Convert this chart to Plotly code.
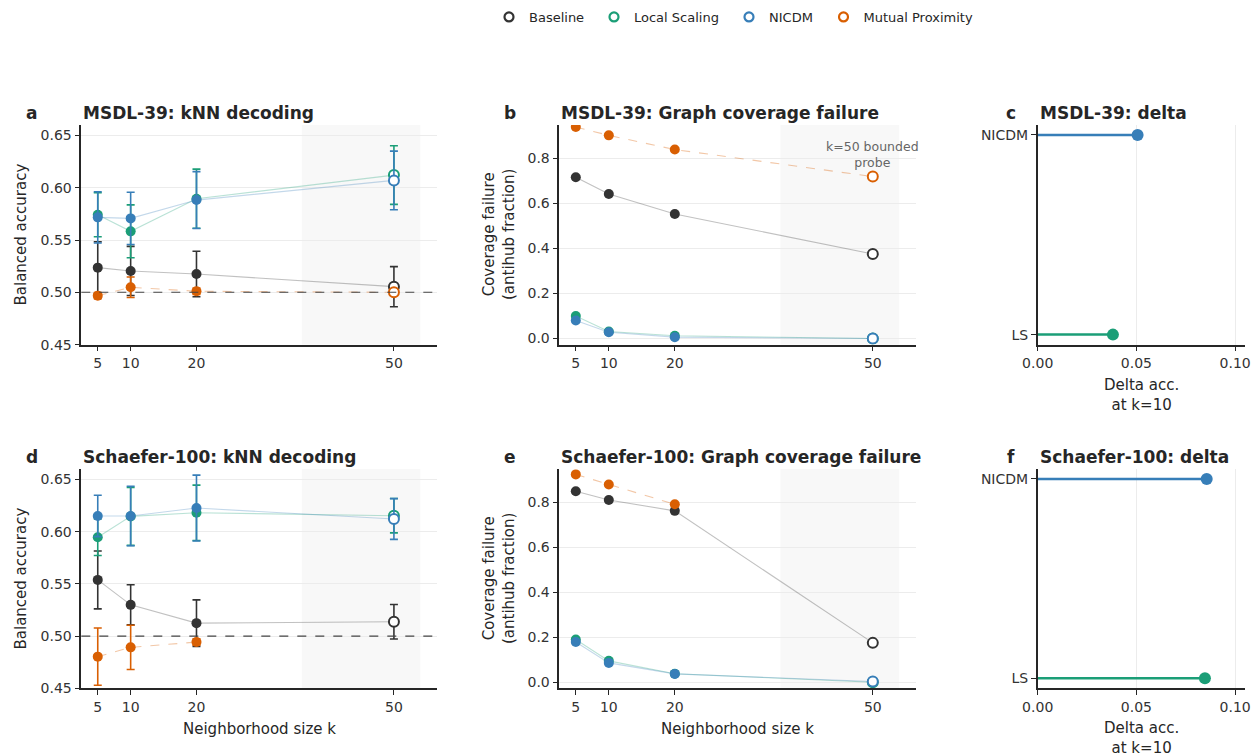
import plotly.graph_objects as go

W, H = 1259, 754
OFF = 8  # page body margin offset

K = [5, 10, 20, 50]
METHODS = ["Baseline", "Local Scaling", "NICDM", "Mutual Proximity"]
COLORS = ["#333333", "#1b9e77", "#377eb8", "#d95f02"]
LINE_COLORS = ["rgba(51,51,51,0.30)", "rgba(27,158,119,0.30)",
               "rgba(55,126,184,0.30)", "rgba(217,95,2,0.35)"]
LINE_DASH = ["solid", "solid", "solid", "dash"]

# ---- MSDL-39 : kNN decoding (balanced accuracy) ----
msdl_acc_baseline = [0.5236, 0.5204, 0.5175, 0.5054]
msdl_acc_ls = [0.5742, 0.5583, 0.5895, 0.6121]
msdl_acc_nicdm = [0.5717, 0.5707, 0.5882, 0.6070]
msdl_acc_mp = [0.4968, 0.5048, 0.5010, 0.5000]
msdl_err_baseline = [0.0248, 0.0235, 0.0217, 0.0192]
msdl_err_ls = [0.0210, 0.0253, 0.0283, 0.0280]
msdl_err_nicdm = [0.0245, 0.0250, 0.0272, 0.0280]
msdl_err_mp = [0.0030, 0.0098, 0.0030, 0.0010]

# ---- MSDL-39 : coverage failure ----
msdl_cov_baseline = [0.716, 0.642, 0.553, 0.375]
msdl_cov_ls = [0.100, 0.031, 0.012, 0.000]
msdl_cov_nicdm = [0.080, 0.028, 0.006, 0.000]
msdl_cov_mp = [0.939, 0.902, 0.839, 0.719]

# ---- Schaefer-100 : kNN decoding ----
sch_acc_baseline = [0.5538, 0.5299, 0.5124, 0.5137]
sch_acc_ls = [0.5946, 0.6146, 0.6181, 0.6153]
sch_acc_nicdm = [0.6150, 0.6150, 0.6226, 0.6121]
sch_acc_mp = [0.4803, 0.4892, 0.4943, None]
sch_err_baseline = [0.0277, 0.0192, 0.0223, 0.0165]
sch_err_ls = [0.0175, 0.0277, 0.0265, 0.0165]
sch_err_nicdm = [0.0198, 0.0285, 0.0315, 0.0195]
sch_err_mp = [0.0274, 0.0212, 0.0030, None]

# ---- Schaefer-100 : coverage failure ----
sch_cov_baseline = [0.849, 0.810, 0.762, 0.175]
sch_cov_ls = [0.190, 0.095, 0.038, 0.000]
sch_cov_nicdm = [0.179, 0.086, 0.037, 0.003]
sch_cov_mp = [0.924, 0.879, 0.791, None]

# ---- delta at k=10 ----
DELTA_CATS = ["LS", "NICDM"]
DELTA_COLORS = ["#1b9e77", "#377eb8"]
msdl_delta = [0.0381, 0.0506]
sch_delta = [0.0847, 0.0856]

ACC_TICKS = [0.45, 0.50, 0.55, 0.60, 0.65]
COV_TICKS = [0.0, 0.2, 0.4, 0.6, 0.8]
DELTA_TICKS = [0.00, 0.05, 0.10]

TXT = "#262626"
FONT = "DejaVu Sans"

fig = go.Figure()


def fx(p):
    return (p - OFF) / W


def fy(p):
    return 1 - (p - OFF) / H


def px_x(x0, x1):
    return [fx(x0), fx(x1)]


def px_y(top, bottom):
    return [fy(bottom), fy(top)]


def add_series(xa, ya, values, errs):
    for i in range(4):
        vals = values[i]
        pts_x = [k for k, v in zip(K, vals) if v is not None]
        pts_y = [v for v in vals if v is not None]
        c = COLORS[i]
        fill = [c if k != 50 else "white" for k in pts_x]
        lw = [0 if k != 50 else 2 for k in pts_x]
        err = None
        if errs is not None:
            e = [v for v in errs[i] if v is not None]
            err = dict(type="data", array=e, visible=True, color=c,
                       thickness=1.6, width=4)
        fig.add_trace(go.Scatter(
            x=pts_x, y=pts_y, xaxis=xa, yaxis=ya, mode="lines+markers",
            line=dict(color=LINE_COLORS[i], width=1.1, dash=LINE_DASH[i]),
            marker=dict(size=10, color=fill, line=dict(color=c, width=lw)),
            error_y=err, showlegend=False, hoverinfo="x+y"))


add_series("x", "y", [msdl_acc_baseline, msdl_acc_ls, msdl_acc_nicdm, msdl_acc_mp],
           [msdl_err_baseline, msdl_err_ls, msdl_err_nicdm, msdl_err_mp])
add_series("x2", "y2", [msdl_cov_baseline, msdl_cov_ls, msdl_cov_nicdm, msdl_cov_mp], None)
add_series("x4", "y4", [sch_acc_baseline, sch_acc_ls, sch_acc_nicdm, sch_acc_mp],
           [sch_err_baseline, sch_err_ls, sch_err_nicdm, sch_err_mp])
add_series("x5", "y5", [sch_cov_baseline, sch_cov_ls, sch_cov_nicdm, sch_cov_mp], None)


def add_lollipop(xa, ya, deltas):
    for cat, v, c in zip(DELTA_CATS, deltas, DELTA_COLORS):
        fig.add_trace(go.Scatter(
            x=[0, v], y=[cat, cat], xaxis=xa, yaxis=ya, mode="lines",
            line=dict(color=c, width=2.5), showlegend=False, hoverinfo="skip"))
        fig.add_trace(go.Scatter(
            x=[v], y=[cat], xaxis=xa, yaxis=ya, mode="markers",
            marker=dict(size=12, color=c), showlegend=False))


add_lollipop("x3", "y3", msdl_delta)
add_lollipop("x6", "y6", sch_delta)

# legend entries (one small legend per method, placed like the reference row)
LEGEND_NAMES = ["legend", "legend2", "legend3", "legend4"]
LEGEND_X = [481, 586, 721, 815.5]
for m, c, lg in zip(METHODS, COLORS, LEGEND_NAMES):
    fig.add_trace(go.Scatter(
        x=[None], y=[None], mode="markers", name=m, legend=lg,
        marker=dict(symbol="circle-open", size=9, color=c, line=dict(width=2.2))))

axis_common = dict(showline=True, linecolor=TXT, linewidth=1.5, ticks="outside",
                   ticklen=5, tickwidth=1.2, tickcolor=TXT, zeroline=False,
                   tickfont=dict(family=FONT, size=14, color="#333333"),
                   gridcolor="#ececec", gridwidth=1, automargin=False)

cols = [(81.3, 436.7), (559.3, 915.7), (1037.7, 1245.0)]
rows = [(125.0, 344.6), (469.0, 688.3)]

layout = {}
idx = 0
for r, (top, bot) in enumerate(rows):
    for cidx, (l, rr) in enumerate(cols):
        idx += 1
        sx = "" if idx == 1 else str(idx)
        xa = dict(axis_common, domain=px_x(l, rr), anchor="y" + sx)
        ya = dict(axis_common, domain=px_y(top, bot), anchor="x" + sx)
        if cidx == 0:
            xa.update(range=[2.5, 56.5], tickvals=K, showgrid=False)
            ya.update(range=[0.45, 0.66], tickvals=ACC_TICKS,
                      ticktext=[f"{t:.2f}" for t in ACC_TICKS], showgrid=True)
        elif cidx == 1:
            xa.update(range=[2.5, 56.5], tickvals=K, showgrid=False)
            ya.update(range=[-0.027, 0.948], tickvals=COV_TICKS,
                      ticktext=[f"{t:.1f}" for t in COV_TICKS], showgrid=True)
        else:
            xa.update(range=[0, 0.105], tickvals=DELTA_TICKS,
                      ticktext=[f"{t:.2f}" for t in DELTA_TICKS], showgrid=True)
            ya.update(type="category", categoryorder="array",
                      categoryarray=DELTA_CATS, range=[-0.05, 1.05], showgrid=False)
        layout["xaxis" + sx] = xa
        layout["yaxis" + sx] = ya

for lg, lx in zip(LEGEND_NAMES, LEGEND_X):
    layout[lg] = dict(orientation="h", xref="container", yref="container",
                      x=lx / W, xanchor="left", y=fy(17), yanchor="middle",
                      font=dict(family=FONT, size=13, color=TXT),
                      bgcolor="rgba(0,0,0,0)")

shapes = []
for sx in ["", "2", "4", "5"]:
    shapes.append(dict(type="rect", xref="x" + sx, yref=("y" + sx) + " domain",
                       x0=36, x1=54, y0=0, y1=1, fillcolor="#f8f8f8",
                       line=dict(width=0), layer="below"))
for sx in ["", "4"]:
    shapes.append(dict(type="line", xref="x" + sx + " domain", yref="y" + sx,
                       x0=0, x1=1, y0=0.5, y1=0.5,
                       line=dict(color="#444444", width=1.1, dash="dash")))

ann = []
titles = [("a", "MSDL-39: kNN decoding", 23.5, 80.8, 113),
          ("b", "MSDL-39: Graph coverage failure", 501.8, 559.2, 113),
          ("c", "MSDL-39: delta", 1004.2, 1037.5, 113),
          ("d", "Schaefer-100: kNN decoding", 23.5, 80.8, 457),
          ("e", "Schaefer-100: Graph coverage failure", 501.8, 559.2, 457),
          ("f", "Schaefer-100: delta", 1005.2, 1037.5, 457)]
for letter, t, lx, tx, ty in titles:
    for txt, xx in [(letter, lx), (t, tx)]:
        ann.append(dict(text=f"<b>{txt}</b>", x=fx(xx), y=fy(ty), xref="paper",
                        yref="paper", xanchor="left", yanchor="middle", showarrow=False,
                        font=dict(family=FONT, size=17, color=TXT)))

axis_titles = [("Balanced accuracy", 20.5, 235.0, -90),
               ("Coverage failure<br>(antihub fraction)", 499, 235.0, -90),
               ("Balanced accuracy", 20.5, 579.0, -90),
               ("Coverage failure<br>(antihub fraction)", 499, 579.0, -90),
               ("Neighborhood size k", 259, 728.5, 0),
               ("Neighborhood size k", 737.5, 729.3, 0),
               ("Delta acc.<br>at k=10", 1141.3, 395, 0),
               ("Delta acc.<br>at k=10", 1141.3, 738, 0)]
for t, xx, yy, ang in axis_titles:
    ann.append(dict(text=t, x=fx(xx), y=fy(yy), xref="paper", yref="paper",
                    xanchor="center", yanchor="middle", showarrow=False, textangle=ang,
                    font=dict(family=FONT, size=15, color=TXT)))

ann.append(dict(text="k=50 bounded<br>probe", x=50, y=msdl_cov_mp[3], xref="x2", yref="y2",
                xanchor="center", yanchor="bottom", yshift=5, showarrow=False,
                font=dict(family=FONT, size=12.5, color="#666666")))

fig.update_layout(
    width=W, height=H, margin=dict(l=0, r=0, t=0, b=0, autoexpand=False),
    paper_bgcolor="white", plot_bgcolor="white",
    font=dict(family=FONT, color=TXT),
    shapes=shapes, annotations=ann,
    **layout)

fig.write_html("out.html")
